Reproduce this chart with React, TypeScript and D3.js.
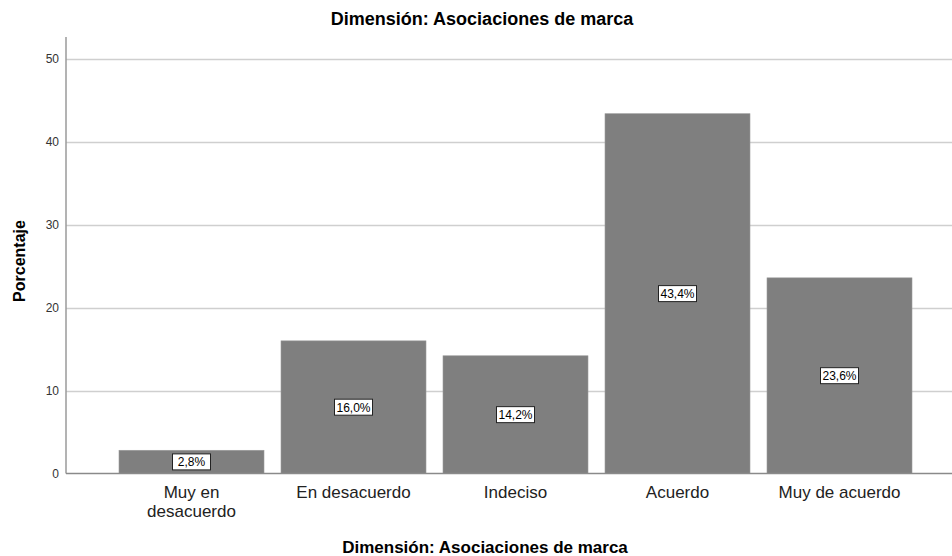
import { useEffect, useRef } from 'react';
import * as d3 from 'd3';

const categories = ['Muy en\ndesacuerdo', 'En desacuerdo', 'Indeciso', 'Acuerdo', 'Muy de acuerdo'];
const percents = [2.8, 16.0, 14.2, 43.4, 23.6];
const yTicks = [0, 10, 20, 30, 40, 50];

export default function App() {
  const svgRef = useRef<SVGSVGElement>(null);

  useEffect(() => {
    const w = 952;
    const h = 556;
    const svg = d3.select(svgRef.current);
    svg.selectAll('*').remove();
    svg.attr('width', w).attr('height', h).style('background', '#fff');

    const font = 'Liberation Sans, Arial, sans-serif';
    const x0 = 66;
    const y0 = 473.5;

    // scaling
    const xScale = d3.scaleBand<string>().domain(categories).range([110.5, 920.5]).paddingInner(0.105).paddingOuter(0.0525);
    const yScale = d3.scaleLinear().domain([0, 50]).range([y0, 59]);

    // gridlines
    svg.append('g')
      .selectAll('line')
      .data(yTicks.filter(d => d > 0))
      .enter()
      .append('line')
      .attr('x1', x0)
      .attr('x2', w)
      .attr('y1', d => Math.round(yScale(d)) + 0.5)
      .attr('y2', d => Math.round(yScale(d)) + 0.5)
      .attr('stroke', '#cfcfcf')
      .attr('stroke-width', 1.5);

    // bars
    svg.selectAll('.bar').data(percents)
      .enter()
      .append('rect')
      .attr('class', 'bar')
      .attr('x', (d, i) => xScale(categories[i])!)
      .attr('y', d => yScale(d))
      .attr('width', xScale.bandwidth())
      .attr('height', d => y0 - yScale(d))
      .attr('fill', '#7f7f7f')
      .attr('stroke', '#999')
      .attr('stroke-width', 0.6);

    // axes lines
    svg.append('line').attr('x1', x0).attr('x2', x0).attr('y1', 37).attr('y2', y0)
      .attr('stroke', '#9a9a9a').attr('stroke-width', 1.5);
    svg.append('line').attr('x1', x0).attr('x2', w).attr('y1', y0).attr('y2', y0)
      .attr('stroke', '#8a8a8a').attr('stroke-width', 1.5);

    // y tick labels
    svg.append('g')
      .selectAll('text')
      .data(yTicks)
      .enter()
      .append('text')
      .attr('x', 59)
      .attr('y', d => yScale(d) + 4)
      .attr('text-anchor', 'end')
      .attr('font-family', font)
      .attr('font-size', '12px')
      .attr('fill', '#333')
      .text(d => d);

    // value labels
    const labels = svg.append('g')
      .selectAll('g')
      .data(percents)
      .enter()
      .append('g')
      .attr('transform', (d, i) => `translate(${xScale(categories[i])! + xScale.bandwidth() / 2},${(yScale(d) + y0) / 2})`);
    labels.append('rect')
      .attr('x', -19)
      .attr('y', -8)
      .attr('width', 38)
      .attr('height', 16)
      .attr('fill', '#fff')
      .attr('stroke', '#222')
      .attr('stroke-width', 1);
    labels.append('text')
      .attr('text-anchor', 'middle')
      .attr('y', 4.5)
      .attr('font-family', font)
      .attr('font-size', '12px')
      .attr('fill', '#000')
      .text(d => d.toFixed(1).replace('.', ',') + '%');

    // x tick labels
    const xl = svg.append('g')
      .selectAll('text')
      .data(categories)
      .enter()
      .append('text')
      .attr('text-anchor', 'middle')
      .attr('font-family', font)
      .attr('font-size', '17px')
      .attr('fill', '#222')
      .attr('transform', d => `translate(${xScale(d)! + xScale.bandwidth() / 2},498)`);
    xl.selectAll('tspan')
      .data(d => d.split('\n'))
      .enter()
      .append('tspan')
      .attr('x', 0)
      .attr('dy', (d, i) => (i === 0 ? 0 : 19))
      .text(d => d);

    // titles
    svg.append('text')
      .attr('x', 482)
      .attr('y', 25)
      .attr('text-anchor', 'middle')
      .attr('font-family', font)
      .attr('font-size', '18px')
      .attr('font-weight', 'bold')
      .text('Dimensión: Asociaciones de marca');

    svg.append('text')
      .attr('x', 485)
      .attr('y', 553)
      .attr('text-anchor', 'middle')
      .attr('font-family', font)
      .attr('font-size', '17px')
      .attr('font-weight', 'bold')
      .text('Dimensión: Asociaciones de marca');

    svg.append('text')
      .attr('transform', 'translate(25,261) rotate(-90)')
      .attr('text-anchor', 'middle')
      .attr('font-family', font)
      .attr('font-size', '16px')
      .attr('font-weight', 'bold')
      .text('Porcentaje');
  }, []);

  return (
    <div style={{ position: 'absolute', left: 0, top: 0 }}>
      <svg ref={svgRef}></svg>
    </div>
  );
}
